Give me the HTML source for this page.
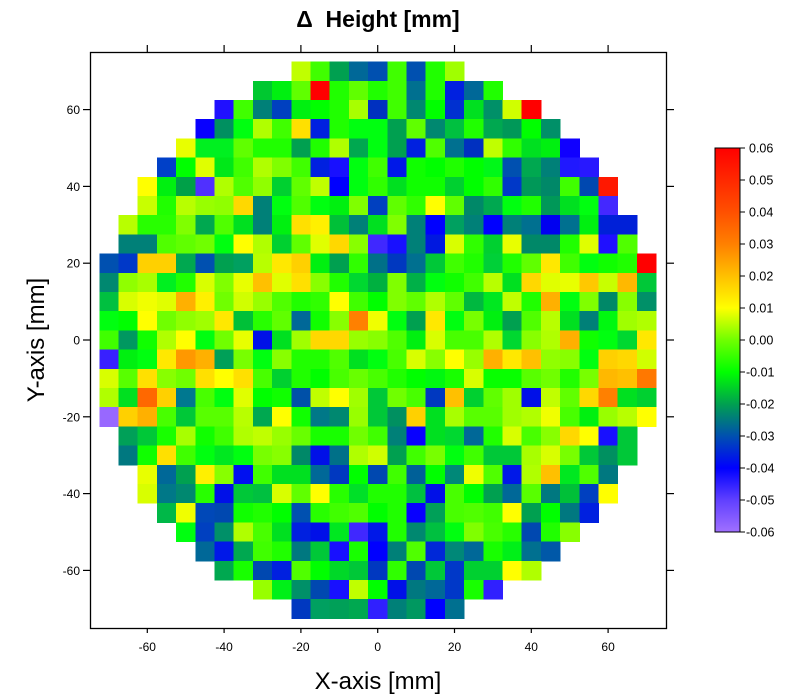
<!DOCTYPE html>
<html><head><meta charset="utf-8">
<style>
html,body{margin:0;padding:0;background:#fff;}
svg{display:block;}
text{font-family:"Liberation Sans",sans-serif;fill:#000;}
</style></head>
<body>
<svg id="s" width="800" height="700" viewBox="0 0 800 700" xmlns="http://www.w3.org/2000/svg">
<defs>
<linearGradient id="cb" x1="0" y1="1" x2="0" y2="0">
<stop offset="0" stop-color="#a070ff"/>
<stop offset="0.0833" stop-color="#6040ff"/>
<stop offset="0.1667" stop-color="#0000ff"/>
<stop offset="0.25" stop-color="#0050b0"/>
<stop offset="0.3333" stop-color="#00a050"/>
<stop offset="0.4167" stop-color="#00ff00"/>
<stop offset="0.5" stop-color="#70ff00"/>
<stop offset="0.5833" stop-color="#ffff00"/>
<stop offset="0.6667" stop-color="#ffc000"/>
<stop offset="0.75" stop-color="#ff8000"/>
<stop offset="0.8333" stop-color="#ff5000"/>
<stop offset="1" stop-color="#ff0000"/>
</linearGradient>
</defs>
<g id="cells" shape-rendering="crispEdges"></g>
<rect x="90.5" y="52.5" width="576" height="576" fill="none" stroke="#000" stroke-width="1.3"/>
<g id="ticks" stroke="#000" stroke-width="1.2"></g>
<g id="labels" font-size="12"></g>
<text x="378" y="27" font-size="23" font-weight="bold" text-anchor="middle">Δ&#160; Height [mm]</text>
<text x="378" y="689" font-size="24" text-anchor="middle">X-axis [mm]</text>
<text transform="translate(44,340) rotate(-90)" font-size="24" text-anchor="middle">Y-axis [mm]</text>
<rect x="715" y="148" width="25" height="384" fill="url(#cb)" stroke="#000" stroke-width="1"/>
<g id="cbt" stroke="#000" stroke-width="1"></g>
<g id="cbl" font-size="12.5"></g>
</svg>
<script>
var rows=[
[10,"c0ff00 40ff00 00a050 006898 0050b0 40ff00 0050b0 20ff00 a0ff00"],
[8,"00c830 00f010 60ff00 ff0000 20ff00 60ff00 20ff00 40ff00 007090 20ff00 0020e0 006898 20ff00"],
[6,"2010ff 40ff00 008078 0040c0 00f010 00ff00 20ff00 a8ff00 0030c0 40ff00 008870 00ff00 0030d0 00e020 009068 d0ff00 ff0000"],
[5,"0800ff 009060 00ff10 b0ff00 40ff00 ffe000 0020e0 20ff00 00ff10 00ff10 00a050 60ff00 008870 00c040 20ff00 00a850 009858 00ff00 009068"],
[4,"e8ff00 00f020 00f020 60ff00 20ff00 20ff00 00a050 20ff00 b0ff00 00a850 00ff10 00a050 0020e0 50ff00 007090 0030c0 c0ff00 30ff00 00e020 00f010 1000ff"],
[3,"0040c8 00ff00 e0ff00 00e818 40ff00 b0ff00 80ff00 40ff00 0020e0 1810ff 00ff10 40ff00 0018e8 10ff00 00ff00 20ff00 00ff00 00f818 0050b0 00a850 008078 2018ff 2818ff"],
[2,"ffff00 00f010 00a048 5030ff b0ff00 50ff00 90ff00 00d030 60ff00 c0ff00 0000ff 00ff10 30ff00 00e020 10ff00 10ff00 00d030 00ff00 30ff00 0038c8 009858 008868 40ff00 0048b0 ff1800"],
[2,"c8ff00 20ff00 b8ff00 98ff00 90ff00 ffd800 008078 00ff10 50ff00 00ff10 00f010 80ff00 0040c0 60ff00 30ff00 ffff00 60ff00 008868 00a850 00ff10 20ff00 009858 00e020 00ff10 4428ff"],
[1,"b8ff00 28ff00 28ff00 80ff00 00a850 50ff00 00e020 008078 00f010 ffe000 fff000 00c038 008078 00e020 80ff00 008078 0000ff 00a060 008078 0000ff 008078 007090 0000f0 007090 00f010 0020d8 0020d8"],
[1,"008078 008078 50ff00 60ff00 70ff00 00ff10 ffff00 b0ff00 00d030 60ff00 e0ff00 ffd800 88ff00 4028ff 1810ff 008078 0018e0 d8ff00 30ff00 00d030 e8ff00 008868 008868 20ff00 e0ff00 2010ff 50ff00"],
[0,"0050b0 0038c8 ffd000 ffd000 00a850 0050b0 00a050 00a060 b8ff00 ffe800 ffd000 00f010 00a050 30ff00 007088 0038c0 007090 00c838 40ff00 20ff00 00d038 20ff00 60ff00 ffe800 40ff00 00ff10 10ff00 20ff00 ff0000"],
[0,"008870 90ff00 a8ff00 00f020 20ff00 d8ff00 80ff00 e8ff00 ffc000 e0ff00 ffe000 88ff00 20ff00 00d830 00b040 80ff00 00b048 00ff10 10ff00 40ff00 b8ff00 00e020 ffd800 e0ff00 e8ff00 ffc800 c8ff00 ffb800 00c838"],
[0,"00c040 d8ff00 f0ff00 e0ff00 ffb000 fff000 70ff00 d0ff00 98ff00 50ff00 20ff00 30ff00 ffff00 40ff00 00ff00 80ff00 60ff00 b0ff00 60ff00 00b840 00e820 c0ff00 20ff00 ffb000 00ff10 80ff00 008868 88ff00 009068"],
[0,"00ff10 00ff00 ffff00 70ff00 90ff00 a0ff00 ffe800 00c038 28ff00 60ff00 006898 10ff00 88ff00 ff8000 f0ff00 00ff10 00a050 ffe800 00ff10 78ff00 00f010 00a050 50ff00 b8ff00 00e020 008078 00f810 a0ff00 b0ff00"],
[0,"40ff00 009860 10ff00 b0ff00 ffff00 00ff10 70ff00 e8ff00 0010e8 00e020 a0ff00 ffd800 ffd800 98ff00 88ff00 50ff00 00f010 d8ff00 48ff00 48ff00 b0ff00 00d830 88ff00 b0ff00 ffb000 10ff00 00ff10 00d830 ffe800"],
[0,"3820ff 00f010 00ff10 ffe800 ff9800 ffb000 00a058 78ff00 00ff10 88ff00 20ff00 20ff00 50ff00 00e020 00ff10 48ff00 d8ff00 88ff00 ffff00 98ff00 ffb000 ffe800 ffc000 90ff00 88ff00 00ff10 ffd000 ffd800 d0ff00"],
[0,"d8ff00 58ff00 ffe000 88ff00 70ff00 ffe000 ffff00 ffe000 48ff00 00d030 20ff00 00ff00 48ff00 68ff00 48ff00 20ff00 00ff00 00f810 18ff00 d8ff00 08ff00 08ff00 58ff00 70ff00 20ff00 78ff00 ffb800 ffc000 ff7800"],
[0,"b0ff00 00e020 ff6800 ffd000 007890 48ff00 00ff10 e0ff00 00ff00 10ff00 0050a8 c0ff00 ffff00 a0ff00 00c838 70ff00 48ff00 0038c0 ffc000 00d030 60ff00 a0ff00 0010e8 c0ff00 60ff00 ffd800 ff8000 00e020 00d030"],
[0,"9868ff ffd000 ffb000 48ff00 00c838 58ff00 58ff00 b8ff00 00a850 ffff00 10ff00 007888 008870 98ff00 00c838 009060 ffd000 00e020 a8ff00 58ff00 58ff00 a0ff00 b0ff00 f0ff00 48ff00 00f010 98ff00 b8ff00 ffff00"],
[1,"00a058 00c838 18ff00 a8ff00 10ff00 40ff00 b0ff00 c0ff00 98ff00 68ff00 18ff00 18ff00 70ff00 40ff00 008078 0800ff 00e020 00d830 006898 20ff00 d8ff00 48ff00 88ff00 ffd800 ffff00 1810ff 00c838"],
[1,"007880 10ff00 ffe000 40ff00 00ff10 00e820 00ff10 78ff00 88ff00 008868 0010e8 007088 b0ff00 d0ff00 00a050 40ff00 78ff00 00ff10 40ff00 00c838 00c838 a8ff00 d8ff00 78ff00 00c838 009060 00c838"],
[2,"e8ff00 006898 00a050 fff000 88ff00 0010f0 40ff00 00e020 00e020 006898 0038c0 00ff00 0048b0 40ff00 006098 00ff00 008878 f0ff00 50ff00 0018e8 b0ff00 ffc000 00e820 50ff00 007880"],
[2,"d8ff00 007888 008870 28ff00 0010e8 00c838 00c040 d8ff00 60ff00 ffff00 28ff00 00e028 20ff00 20ff00 00c040 0010e8 48ff00 00ff00 00a050 006898 58ff00 007880 00c038 0040c0 ffff00"],
[3,"00b848 f0ff00 0048b8 0048b0 10ff00 20ff00 00ff00 0050b0 28ff00 40ff00 50ff00 00ff00 20ff00 0800ff 00a058 48ff00 50ff00 40ff00 ffff00 00a050 00ff00 007880 0020e0"],
[4,"00ff10 0040c0 009068 b0ff00 48ff00 00e020 0020e0 0010e8 00e820 4028ff 0018e8 20ff00 008870 00c040 00ff10 80ff00 48ff00 28ff00 0048b0 20ff00 88ff00"],
[5,"006898 0018e8 00a850 40ff00 20ff00 007880 00c838 1810ff 18ff00 0000ff 008078 50ff00 0028d8 008878 006898 18ff00 00f018 007090 0058a8"],
[6,"00a850 18ff00 0048b0 0020e0 50ff00 00ff00 00d828 00c838 0038c0 30ff00 0048b0 00c838 0038c8 00d030 00d030 ffff00 b0ff00"],
[8,"98ff00 00f018 009068 0048b0 1810ff c0ff00 00ff00 0010e8 007880 006898 0038c8 18ff00 3020ff"],
[10,"0038c0 00a060 00a058 00a850 3020ff 008078 009860 0000ff 007090"]
];
var NS="http://www.w3.org/2000/svg";
function el(t,a,txt){var e=document.createElementNS(NS,t);for(var k in a)e.setAttribute(k,a[k]);if(txt!==undefined)e.textContent=txt;return e;}
var g=document.getElementById("cells");
var x0=99.3,y0=61.6,cs=19.2;
rows.forEach(function(r,i){
  r[1].split(" ").forEach(function(c,j){
    var x=x0+(r[0]+j)*cs, y=y0+i*cs;
    g.appendChild(el("rect",{x:x.toFixed(2),y:y.toFixed(2),width:(cs+0.5).toFixed(2),height:(cs+0.5).toFixed(2),fill:"#"+c}));
  });
});
var tk=document.getElementById("ticks"),lb=document.getElementById("labels");
for(var v=-60;v<=60;v+=20){
  var px=377.7+v*3.84, py=340-v*3.84;
  tk.appendChild(el("line",{x1:px,y1:628,x2:px,y2:633}));
  tk.appendChild(el("line",{x1:px,y1:52,x2:px,y2:45}));
  tk.appendChild(el("line",{x1:90,y1:py,x2:83,y2:py}));
  tk.appendChild(el("line",{x1:667,y1:py,x2:674,y2:py}));
  lb.appendChild(el("text",{x:px,y:651,"text-anchor":"middle"},String(v)));
  lb.appendChild(el("text",{x:80,y:py+4.5,"text-anchor":"end"},String(v)));
}
var ct=document.getElementById("cbt"),cl=document.getElementById("cbl");
for(var k=-6;k<=6;k++){
  var yy=340-k*32;
  ct.appendChild(el("line",{x1:740,y1:yy,x2:745,y2:yy}));
  var s=(k<0?"-":"")+"0.0"+Math.abs(k);
  cl.appendChild(el("text",{x:(k<0?746:749),y:yy+4.5},s));
}
</script>
</body></html>
